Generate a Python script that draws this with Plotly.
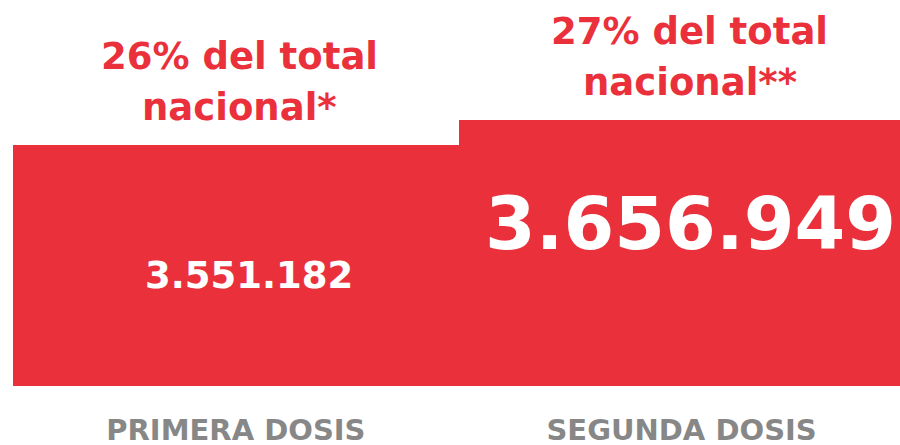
import plotly.graph_objects as go

categories = ["PRIMERA DOSIS", "SEGUNDA DOSIS"]
values = [3551182, 3656949]
value_labels = ["3.551.182", "3.656.949"]
share_line1 = ["26% del total", "27% del total"]
share_line2 = ["nacional*", "nacional**"]

RED = "#EA313B"
GREY = "#878787"
FONT = "DejaVu Sans"

fig = go.Figure()
fig.add_trace(go.Bar(
    x=categories, y=values, marker=dict(color=RED, line=dict(width=0)),
    width=1.0, hoverinfo="skip",
))

# value labels inside bars
fig.add_annotation(x=categories[0], y=values[0], text="<b>%s</b>" % value_labels[0],
                   showarrow=False, yanchor="middle", yshift=-130, xshift=13,
                   font=dict(family=FONT, size=37, color="white"))
fig.add_annotation(x=categories[1], y=values[1], text="<b>%s</b>" % value_labels[1],
                   showarrow=False, yanchor="middle", yshift=-103, xshift=9,
                   font=dict(family=FONT, size=73, color="white"))

# share labels above bars
for i in range(2):
    xs = 4 if i == 0 else 8
    fig.add_annotation(x=categories[i], y=values[i], text="<b>%s</b>" % share_line2[i],
                       showarrow=False, yanchor="bottom", yshift=14, xshift=xs,
                       font=dict(family=FONT, size=37, color=RED))
    fig.add_annotation(x=categories[i], y=values[i], text="<b>%s</b>" % share_line1[i],
                       showarrow=False, yanchor="bottom", yshift=65, xshift=xs,
                       font=dict(family=FONT, size=37, color=RED))

fig.update_layout(
    width=900, height=445,
    margin=dict(l=13, r=0, t=0, b=59),
    paper_bgcolor="white", plot_bgcolor="white",
    bargap=0, showlegend=False,
    xaxis=dict(range=[-0.5, 1.49], showgrid=False, zeroline=False, showline=False,
               automargin=False,
               ticks="", tickfont=dict(family=FONT, size=29, color=GREY, weight="bold"),
               ticklabelstandoff=24),
    yaxis=dict(range=[2531588, 4164624], visible=False, automargin=False),
)

fig.write_html(
    "out.html",
    config={"displayModeBar": False},
    post_script="document.body.style.margin='0';document.body.style.overflow='hidden';",
)
